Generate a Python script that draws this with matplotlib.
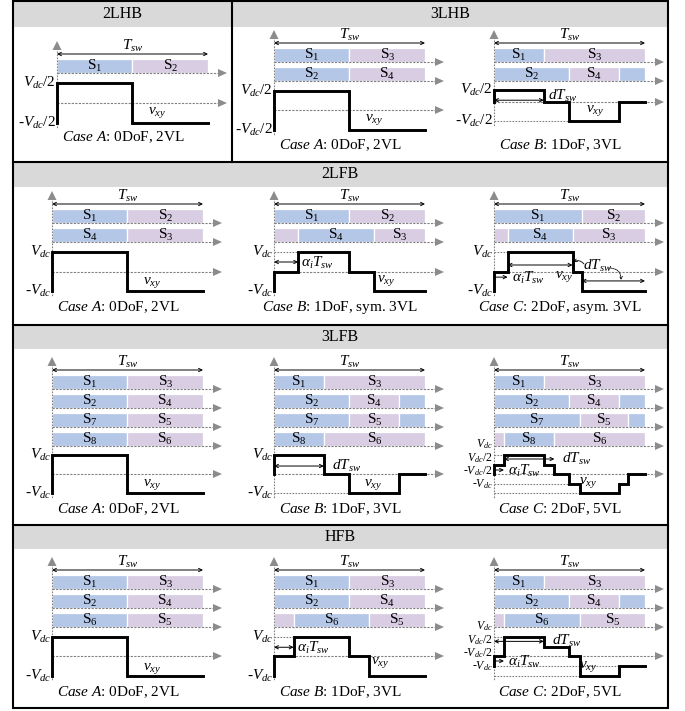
import matplotlib.pyplot as plt
from matplotlib.patches import Rectangle, Polygon

# Times-like text everywhere, including the math labels
plt.rcParams['font.family'] = 'Liberation Serif'
plt.rcParams['mathtext.fontset'] = 'custom'
plt.rcParams['mathtext.rm'] = 'Liberation Serif'
plt.rcParams['mathtext.it'] = 'Liberation Serif:italic'
plt.rcParams['mathtext.bf'] = 'Liberation Serif:bold'

COLORS = {'b': '#b4c7e7', 'p': '#d8cde2'}
HEAD = '#d9d9d9'
GREY = '#808080'
ARROW = '#8c8c8c'
W = 151  # one switching period, px
FS = 11

# ---- switching patterns: (edges in Tsw, fill per segment, switch index) ----
sw_2lhb_a = [([0, 0.5, 1], 'bp', ['1', '2'])]
sw_3lhb_a = [([0, 0.5, 1], 'bp', ['1', '3']),
             ([0, 0.5, 1], 'bp', ['2', '4'])]
sw_3lhb_b = [([0, 0.33, 1], 'bp', ['1', '3']),
             ([0, 0.5, 0.83, 1], 'bpb', ['2', '4', ''])]
sw_2lfb_a = [([0, 0.5, 1], 'bp', ['1', '2']),
             ([0, 0.5, 1], 'bp', ['4', '3'])]
sw_2lfb_b = [([0, 0.5, 1], 'bp', ['1', '2']),
             ([0, 0.16, 0.66, 1], 'pbp', ['', '4', '3'])]
sw_2lfb_c = [([0, 0.58, 1], 'bp', ['1', '2']),
             ([0, 0.09, 0.52, 1], 'pbp', ['', '4', '3'])]
sw_3lfb_a = [([0, 0.5, 1], 'bp', ['1', '3']),
             ([0, 0.5, 1], 'bp', ['2', '4']),
             ([0, 0.5, 1], 'bp', ['7', '5']),
             ([0, 0.5, 1], 'bp', ['8', '6'])]
sw_3lfb_b = [([0, 0.33, 1], 'bp', ['1', '3']),
             ([0, 0.5, 0.83, 1], 'bpb', ['2', '4', '']),
             ([0, 0.5, 0.83, 1], 'bpb', ['7', '5', '']),
             ([0, 0.33, 1], 'bp', ['8', '6'])]
sw_3lfb_c = [([0, 0.33, 1], 'bp', ['1', '3']),
             ([0, 0.5, 0.83, 1], 'bpb', ['2', '4', '']),
             ([0, 0.57, 0.89, 1], 'bpb', ['7', '5', '']),
             ([0, 0.066, 0.4, 1], 'pbp', ['', '8', '6'])]
sw_hfb_a = [([0, 0.5, 1], 'bp', ['1', '3']),
            ([0, 0.5, 1], 'bp', ['2', '4']),
            ([0, 0.5, 1], 'bp', ['6', '5'])]
sw_hfb_b = [([0, 0.5, 1], 'bp', ['1', '3']),
            ([0, 0.5, 1], 'bp', ['2', '4']),
            ([0, 0.13, 0.63, 1], 'pbp', ['', '6', '5'])]
sw_hfb_c = [([0, 0.33, 1], 'bp', ['1', '3']),
            ([0, 0.5, 0.83, 1], 'bpb', ['2', '4', '']),
            ([0, 0.066, 0.57, 1], 'pbp', ['', '6', '5'])]

# ---- output voltage v_xy: switching instants (Tsw) and levels (Vdc units) ----
t_2lvl = [0, 0.5, 1]
v_2lvl = [1, -1]
t_3lhb_b = [0, 0.33, 0.5, 0.83, 1]
v_3lhb_b = [1, 0, -1, 0]
t_2lfb_b = [0, 0.16, 0.5, 0.66, 1]
v_2lfb_b = [0, 1, 0, -1]
t_2lfb_c = [0, 0.09, 0.52, 0.58, 1]
v_2lfb_c = [0, 1, 0, -1]
t_3lfb_b = [0, 0.33, 0.5, 0.83, 1]
v_3lfb_b = [1, 0, -1, 0]
t_3lfb_c = [0, 0.066, 0.33, 0.4, 0.5, 0.57, 0.83, 0.89, 1]
v_3lfb_c = [0.5, 1, 0.5, 0, -0.5, -1, -0.5, 0]
t_hfb_b = [0, 0.13, 0.5, 0.63, 1]
v_hfb_b = [0, 1, 0, -1]
t_hfb_c = [0, 0.066, 0.33, 0.5, 0.57, 0.83, 1]
v_hfb_c = [0, 1, 0.5, 0, -1, -0.5]

headers = ['2LHB', '3LHB', '2LFB', '3LFB', 'HFB']
case_a = r'$\mathit{Case\ A}$: 0DoF, 2VL'
case_b = r'$\mathit{Case\ B}$: 1DoF, 3VL'
case_b_sym = r'$\mathit{Case\ B}$: 1DoF, sym. 3VL'
case_c_asym = r'$\mathit{Case\ C}$: 2DoF, asym. 3VL'
case_c = r'$\mathit{Case\ C}$: 2DoF, 5VL'

lab_half = [(1, r'$V_{dc}$/2'), (-1, r'-$V_{dc}$/2')]
lab_full = [(1, r'$V_{dc}$'), (-1, r'-$V_{dc}$')]
lab_five = [r'$V_{dc}$', r'$V_{dc}$/2', r'-$V_{dc}$/2', r'-$V_{dc}$']
TD = r'$dT_{sw}$'
TA = r'$\alpha_i T_{sw}$'


def level_y(val, lv):
    top, mid, bot = lv
    if val >= 0:
        return mid - val * (mid - top)
    return mid - val * (bot - mid)


def time_axis(ax, x0, y):
    ax.plot([x0, x0 + 162], [y, y], ls=(0, (2, 1.2)), color=GREY, lw=0.8, zorder=2)
    ax.add_patch(Polygon([[x0 + 161, y - 4], [x0 + 161, y + 4], [x0 + 170, y]],
                         color=ARROW, lw=0, zorder=2))


def arrow(ax, xa, xb, y, style='<->'):
    ax.annotate('', xy=(xb, y), xytext=(xa, y),
                arrowprops=dict(arrowstyle=style, lw=0.7, color='k',
                                shrinkA=0, shrinkB=0, mutation_scale=6), zorder=4)


def draw_panel(ax, x0, ty, lv, rows, t, v, case, ylab, case_y,
               guides=(), notes=(), vxy=(100, 10), five=False):
    # vertical axis with its grey head
    ax.plot([x0, x0], [ty - 6, lv[2] + 5], ls=(0, (1.5, 1.2)), color=GREY, lw=0.8, zorder=2)
    ax.add_patch(Polygon([[x0 - 4.5, ty - 4], [x0 + 4.5, ty - 4], [x0, ty - 13]],
                         color=ARROW, lw=0, zorder=2))
    # switching period
    arrow(ax, x0, x0 + W, ty)
    ax.text(x0 + W / 2, ty - 8, r'$T_{sw}$', ha='center', va='center', fontsize=FS)

    # gate signals
    for i, (edges, fills, names) in enumerate(rows):
        y = ty + 4.5 + 19 * i
        for a, b, f, n in zip(edges[:-1], edges[1:], fills, names):
            ax.add_patch(Rectangle((x0 + a * W, y), (b - a) * W, 14.5,
                                   facecolor=COLORS[f], edgecolor='white', lw=0.9, zorder=1))
            if n:
                ax.text(x0 + (a + b) / 2 * W, y + 7, r'$\mathrm{S}_{%s}$' % n,
                        ha='center', va='center', fontsize=FS, zorder=3)
        time_axis(ax, x0, y + 14.5)
    time_axis(ax, x0, lv[1])

    # guide lines to levels reached later in the period
    for g in guides:
        k = v.index(g)
        ax.plot([x0, x0 + t[k] * W], [level_y(g, lv)] * 2, ls=(0, (1.5, 1.2)),
                color=GREY, lw=0.8, zorder=2)

    # v_xy staircase, starting from the value it ends the period with
    xs, ys = [x0], [level_y(v[-1], lv)]
    for i, val in enumerate(v):
        xs += [x0 + t[i] * W, x0 + t[i + 1] * W]
        ys += [level_y(val, lv)] * 2
    ax.plot(xs, ys, color='k', lw=2.1, solid_joinstyle='miter', zorder=3)
    ax.text(x0 + vxy[0], lv[1] + vxy[1], r'$v_{xy}$', ha='center', va='center', fontsize=FS)

    # level labels; the five-level ones are stacked tightly
    if five:
        for i, s in enumerate(ylab):
            ax.text(x0 - 1, lv[0] - 10.5 + 13.3 * i, s, ha='right', va='center', fontsize=8.5)
    else:
        for val, s in ylab:
            ax.text(x0 - 1, level_y(val, lv), s, ha='right', va='center', fontsize=FS)

    for ta, tb, frac, style, s, dx, dy in notes:
        y = level_y(frac, lv)
        arrow(ax, x0 + ta * W, x0 + tb * W, y, style)
        if s:
            ax.text(x0 + tb * W + dx, y + dy, s, ha='left', va='center', fontsize=FS)

    ax.text(x0 + 66, case_y, case, ha='center', va='center', fontsize=FS)


fig = plt.figure(figsize=(6.85, 7.11), dpi=100)
ax = fig.add_axes([0, 0, 1, 1])
ax.set_xlim(0, 685)
ax.set_ylim(711, 0)
ax.axis('off')

# table frame and header bands
L, R = 13, 668
bands = [(2, 27), (162, 187), (325, 349), (525, 549)]
for y0, y1 in bands:
    ax.add_patch(Rectangle((L, y0), R - L, y1 - y0, facecolor=HEAD, lw=0, zorder=0))
for y in [162, 325, 525]:
    ax.plot([L, R], [y, y], color='k', lw=1.5, zorder=5)
ax.plot([232, 232], [1, 162], color='k', lw=1.5, zorder=5)
ax.add_patch(Rectangle((L, 1), R - L, 707, fill=False, edgecolor='k', lw=1.5, zorder=5))

ax.text(122, 14.5, headers[0], ha='center', va='center', fontsize=11.5)
ax.text(450, 14.5, headers[1], ha='center', va='center', fontsize=11.5)
for name, (y0, y1) in zip(headers[2:], bands[1:]):
    ax.text(340, (y0 + y1) / 2, name, ha='center', va='center', fontsize=11.5)

c1, c2, c3 = 52, 274, 494

# 2LHB / 3LHB
draw_panel(ax, 57, 54, (83, 103, 123), sw_2lhb_a, t_2lvl, v_2lvl, case_a, lab_half, 137)
draw_panel(ax, c2, 43, (91, 110, 130), sw_3lhb_a, t_2lvl, v_2lvl, case_a, lab_half, 145)
draw_panel(ax, c3, 43, (90, 102, 121), sw_3lhb_b, t_3lhb_b, v_3lhb_b, case_b, lab_half, 145,
           guides=[-1], notes=[(0, t_3lhb_b[1], 0.15, '<->', TD, 4, -4)], vxy=(101, 9))

# 2LFB
draw_panel(ax, c1, 204, (252, 272, 291), sw_2lfb_a, t_2lvl, v_2lvl, case_a, lab_full, 307)
draw_panel(ax, c2, 204, (252, 272, 291), sw_2lfb_b, t_2lfb_b, v_2lfb_b, case_b_sym, lab_full, 307,
           guides=[1], notes=[(0, t_2lfb_b[1], 0.5, '<->', TA, 3, 1)], vxy=(112, 8))
draw_panel(ax, c3, 204, (252, 272, 291), sw_2lfb_c, t_2lfb_c, v_2lfb_c, case_c_asym, lab_full, 307,
           guides=[1],
           notes=[(0, t_2lfb_c[1], -0.27, '->', TA, 4, 1),
                  (t_2lfb_c[1], t_2lfb_c[2], 0.35, '<->', TD, 10, 1),
                  (t_2lfb_c[3], 1, -0.47, '<->', '', 0, 0)],
           vxy=(70, 5))
# pointers from the dT_sw label to both intervals
ax.annotate('', xy=(c3 + t_2lfb_c[2] * W + 1, 262), xytext=(584, 264),
            arrowprops=dict(arrowstyle='->', lw=0.6, color='k', shrinkA=0, shrinkB=0,
                            mutation_scale=5, connectionstyle='arc3,rad=0.4'), zorder=4)
ax.annotate('', xy=(621, 280), xytext=(609, 268),
            arrowprops=dict(arrowstyle='->', lw=0.6, color='k', ls=(0, (1.5, 1)),
                            shrinkA=0, shrinkB=0, mutation_scale=5,
                            connectionstyle='arc3,rad=-0.5'), zorder=4)

# 3LFB
draw_panel(ax, c1, 370, (455, 474, 493), sw_3lfb_a, t_2lvl, v_2lvl, case_a, lab_full, 509)
draw_panel(ax, c2, 370, (455, 474, 493), sw_3lfb_b, t_3lfb_b, v_3lfb_b, case_b, lab_full, 509,
           guides=[-1], notes=[(0, t_3lfb_b[1], 0.42, '<->', TD, 8, 0)], vxy=(99, 11))
draw_panel(ax, c3, 370, (455, 474, 493), sw_3lfb_c, t_3lfb_c, v_3lfb_c, case_c, lab_five, 509,
           guides=[1, -0.5, -1],
           notes=[(t_3lfb_c[1], t_3lfb_c[3], 0.79, '<->', TD, 8, 0),
                  (0, t_3lfb_c[1], 0.21, '->', TA, 4, 1)],
           vxy=(94, 9), five=True)

# HFB
draw_panel(ax, c1, 570, (637, 656, 676), sw_hfb_a, t_2lvl, v_2lvl, case_a, lab_full, 692,
           vxy=(100, 12))
draw_panel(ax, c2, 570, (637, 656, 676), sw_hfb_b, t_hfb_b, v_hfb_b, case_b, lab_full, 692,
           guides=[1], notes=[(0, t_hfb_b[1], 0.46, '<->', TA, 3, 1)], vxy=(106, 7))
draw_panel(ax, c3, 570, (637, 656, 676), sw_hfb_c, t_hfb_c, v_hfb_c, case_c, lab_five, 692,
           guides=[1, -0.5, -1],
           notes=[(0, t_hfb_c[2], 0.77, '<->', TD, 8, 0),
                  (0, t_hfb_c[1], -0.25, '->', TA, 4, 1)],
           vxy=(94, 10), five=True)

fig.savefig('out.png', dpi=100)
